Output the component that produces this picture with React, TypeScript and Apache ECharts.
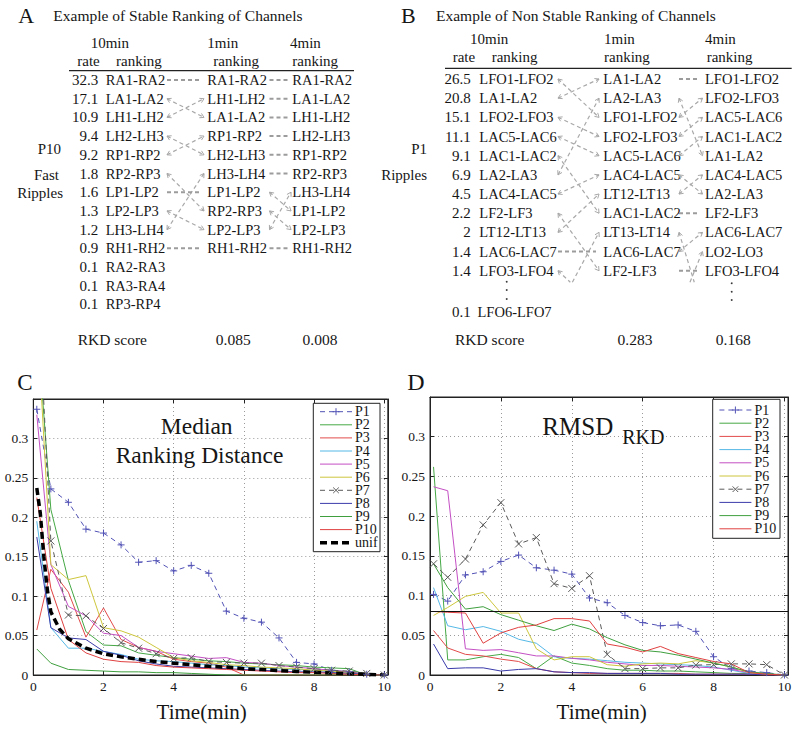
import { useEffect, useRef } from 'react';
import * as echarts from 'echarts';

// ---------------- data ----------------
const TIMES = [0.1, 0.5, 1, 1.5, 2, 2.5, 3, 3.5, 4, 4.5, 5, 5.5, 6, 6.5, 7, 7.5, 8, 8.5, 9, 9.5, 10];
const UNIF_TIMES = [0.1, 0.2, 0.3, 0.4, 0.5, 0.75, 1, 1.5, 2, 2.5, 3, 3.5, 4, 4.5, 5, 5.5, 6, 6.5, 7, 7.5, 8, 8.5, 9, 9.5, 10];
const SERIES_NAMES = ['P1', 'P2', 'P3', 'P4', 'P5', 'P6', 'P7', 'P8', 'P9', 'P10'];

// Panel C: median ranking distance
const MRD_P1 = [0.337, 0.236, 0.219, 0.185, 0.180, 0.165, 0.143, 0.145, 0.132, 0.139, 0.129, 0.081, 0.072, 0.067, 0.047, 0.016, 0.014, 0.006, 0.004, 0.001, 0];
const MRD_P2 = [0.450, 0.210, 0.120, 0.055, 0.038, 0.037, 0.028, 0.025, 0.022, 0.020, 0.018, 0.017, 0.015, 0.014, 0.013, 0.012, 0.010, 0.009, 0.008, 0.000, 0];
const MRD_P3 = [0.057, 0.134, 0.105, 0.048, 0.085, 0.045, 0.035, 0.030, 0.020, 0.017, 0.015, 0.010, 0.000, 0, 0, 0, 0, 0, 0, 0, 0];
const MRD_P4 = [0.195, 0.060, 0.034, 0.034, 0.030, 0.026, 0.020, 0.018, 0.017, 0.015, 0.013, 0.012, 0.010, 0.009, 0.008, 0.007, 0.006, 0.004, 0.003, 0.001, 0];
const MRD_P5 = [0.330, 0.140, 0.087, 0.075, 0.053, 0.050, 0.035, 0.030, 0.027, 0.024, 0.021, 0.022, 0.016, 0.015, 0.012, 0.010, 0.008, 0.006, 0.004, 0.001, 0];
const MRD_P6 = [0.460, 0.140, 0.121, 0.126, 0.060, 0.056, 0.048, 0.035, 0.022, 0.018, 0.016, 0.013, 0.012, 0.010, 0.009, 0.008, 0.006, 0.005, 0.003, 0.001, 0];
const MRD_P7 = [0.520, 0.170, 0.076, 0.075, 0.059, 0.041, 0.034, 0.027, 0.021, 0.022, 0.017, 0.016, 0.015, 0.015, 0.012, 0.010, 0.008, 0.006, 0.005, 0.002, 0];
const MRD_P8 = [0.175, 0.060, 0.047, 0.045, 0.030, 0.025, 0.018, 0.014, 0.011, 0.010, 0.009, 0.008, 0.007, 0.006, 0.005, 0.004, 0.004, 0.003, 0.002, 0.001, 0];
const MRD_P9 = [0.033, 0.015, 0.007, 0.006, 0.005, 0.004, 0.004, 0.003, 0.003, 0.002, 0.001, 0.000, 0, 0, 0, 0, 0, 0, 0, 0, 0];
const MRD_P10 = [0.225, 0.110, 0.045, 0.028, 0.020, 0.017, 0.016, 0.012, 0.010, 0.009, 0.008, 0.007, 0.006, 0.005, 0.004, 0.003, 0.003, 0.002, 0.001, 0.000, 0];
const MRD_UNIF = [0.237, 0.205, 0.150, 0.108, 0.080, 0.058, 0.046, 0.034, 0.027, 0.023, 0.020, 0.017, 0.015, 0.013, 0.011, 0.010, 0.008, 0.007, 0.0055, 0.0045, 0.0034, 0.0025, 0.0017, 0.0008, 0];

// Panel D: RMSD of RKD
const RMSD_P1 = [0.1015, 0.093, 0.126, 0.130, 0.143, 0.151, 0.135, 0.132, 0.127, 0.097, 0.091, 0.075, 0.066, 0.062, 0.063, 0.055, 0.023, 0.008, 0.005, 0.003, 0];
const RMSD_P2 = [0.262, 0.019, 0.019, 0.023, 0.026, 0.022, 0.008, 0.024, 0.015, 0.012, 0.008, 0.006, 0.006, 0.005, 0.005, 0.004, 0.003, 0.002, 0.002, 0.001, 0];
const RMSD_P3 = [0.056, 0.034, 0.026, 0.024, 0.020, 0.017, 0.008, 0.004, 0.003, 0.002, 0.002, 0.002, 0.002, 0.002, 0.002, 0.001, 0.001, 0.001, 0.001, 0, 0];
const RMSD_P4 = [0.110, 0.062, 0.057, 0.061, 0.055, 0.045, 0.040, 0.023, 0.021, 0.020, 0.018, 0.016, 0.015, 0.014, 0.013, 0.012, 0.010, 0.006, 0.002, 0.001, 0];
const RMSD_P5 = [0.237, 0.232, 0.033, 0.031, 0.032, 0.028, 0.024, 0.024, 0.021, 0.019, 0.016, 0.014, 0.012, 0.012, 0.011, 0.010, 0.009, 0.007, 0.003, 0.001, 0];
const RMSD_P6 = [0.075, 0.085, 0.099, 0.104, 0.078, 0.078, 0.033, 0.019, 0.023, 0.023, 0.013, 0.011, 0.014, 0.015, 0.014, 0.018, 0.015, 0.010, 0.003, 0.001, 0];
const RMSD_P7 = [0.140, 0.123, 0.146, 0.189, 0.217, 0.165, 0.173, 0.115, 0.109, 0.125, 0.026, 0.008, 0.008, 0.009, 0.009, 0.0125, 0.013, 0.014, 0.014, 0.013, 0];
const RMSD_P8 = [0.039, 0.008, 0.009, 0.009, 0.005, 0.007, 0.008, 0.004, 0.003, 0.003, 0.002, 0.002, 0.002, 0.002, 0.001, 0.001, 0.001, 0.001, 0.001, 0, 0];
const RMSD_P9 = [0.140, 0.110, 0.083, 0.086, 0.076, 0.069, 0.062, 0.056, 0.064, 0.058, 0.047, 0.038, 0.031, 0.029, 0.025, 0.020, 0.015, 0.010, 0.004, 0.002, 0];
const RMSD_P10 = [0.080, 0.079, 0.078, 0.040, 0.053, 0.060, 0.063, 0.071, 0.071, 0.068, 0.039, 0.035, 0.029, 0.036, 0.027, 0.022, 0.017, 0.014, 0.003, 0.001, 0];
const RMSD_THRESHOLD = 0.084;

// Axis scales
const X_MAX = 10.1;
const X_STEP = 2;
const Y_MAX = 0.35;
const Y_STEP = 0.05;

// Panel A table
const A_RATES = ['32.3', '17.1', '10.9', '9.4', '9.2', '1.8', '1.6', '1.3', '1.2', '0.9', '0.1', '0.1', '0.1'];
const A_RANK10 = ['RA1-RA2', 'LA1-LA2', 'LH1-LH2', 'LH2-LH3', 'RP1-RP2', 'RP2-RP3', 'LP1-LP2', 'LP2-LP3', 'LH3-LH4', 'RH1-RH2', 'RA2-RA3', 'RA3-RA4', 'RP3-RP4'];
const A_RANK1 = ['RA1-RA2', 'LH1-LH2', 'LA1-LA2', 'RP1-RP2', 'LH2-LH3', 'LH3-LH4', 'LP1-LP2', 'RP2-RP3', 'LP2-LP3', 'RH1-RH2'];
const A_RANK4 = ['RA1-RA2', 'LA1-LA2', 'LH1-LH2', 'LH2-LH3', 'RP1-RP2', 'RP2-RP3', 'LH3-LH4', 'LP1-LP2', 'LP2-LP3', 'RH1-RH2'];
const A_SCORES = ['0.085', '0.008'];

// Panel B table
const B_RATES = ['26.5', '20.8', '15.1', '11.1', '9.1', '6.9', '4.5', '2.2', '2', '1.4', '1.4'];
const B_RANK10 = ['LFO1-LFO2', 'LA1-LA2', 'LFO2-LFO3', 'LAC5-LAC6', 'LAC1-LAC2', 'LA2-LA3', 'LAC4-LAC5', 'LF2-LF3', 'LT12-LT13', 'LAC6-LAC7', 'LFO3-LFO4'];
const B_TAIL_RATE = '0.1';
const B_TAIL_LABEL = 'LFO6-LFO7';
const B_RANK1 = ['LA1-LA2', 'LA2-LA3', 'LFO1-LFO2', 'LFO2-LFO3', 'LAC5-LAC6', 'LAC4-LAC5', 'LT12-LT13', 'LAC1-LAC2', 'LT13-LT14', 'LAC6-LAC7', 'LF2-LF3'];
const B_RANK4 = ['LFO1-LFO2', 'LFO2-LFO3', 'LAC5-LAC6', 'LAC1-LAC2', 'LA1-LA2', 'LAC4-LAC5', 'LA2-LA3', 'LF2-LF3', 'LAC6-LAC7', 'LO2-LO3', 'LFO3-LFO4'];
const B_SCORES = ['0.283', '0.168'];

// ---------------- styles ----------------
const FONT = '"Liberation Serif", "DejaVu Serif", serif';
const font = (s: number) => `${s}px ${FONT}`;
const INK = '#161616';

type St = { color: string; width: number; dash?: number[]; marker?: 'plus' | 'cross' };
const STYLES: Record<string, St> = {
  P1: { color: '#5252b6', width: 1, dash: [5, 4], marker: 'plus' },
  P2: { color: '#46a846', width: 1 },
  P3: { color: '#e24a4a', width: 1 },
  P4: { color: '#55b8e6', width: 1 },
  P5: { color: '#c450c4', width: 1 },
  P6: { color: '#cdc63c', width: 1 },
  P7: { color: '#5a5a5a', width: 1, dash: [5, 4], marker: 'cross' },
  P8: { color: '#3a3aaa', width: 1 },
  P9: { color: '#3f9f3f', width: 1 },
  P10: { color: '#e04040', width: 1 },
  unif: { color: '#000000', width: 3.5, dash: [7, 4] },
};
const PLUS = 'path://M0,5L10,5M5,0L5,10';
const CROSS = 'path://M1,1L9,9M9,1L1,9';

function txt(text: string, x: number, y: number, size: number, align = 'left', z = 50, lineHeight?: number) {
  const style: any = { text, font: font(size), fill: INK, textAlign: align, textVerticalAlign: 'middle', align, verticalAlign: 'middle' };
  if (lineHeight) style.lineHeight = lineHeight;
  return { type: 'text', x, y, z, silent: true, style };
}
function seg(x1: number, y1: number, x2: number, y2: number, stroke: string, lineWidth: number, lineDash?: number[], z = 50) {
  return { type: 'line', z, silent: true, shape: { x1, y1, x2, y2 }, style: { stroke, lineWidth, lineDash: lineDash || null } };
}
function arrowHead(px: number, py: number, qx: number, qy: number) {
  const dx = px - qx, dy = py - qy;
  const L = Math.hypot(dx, dy) || 1;
  const ux = dx / L, uy = dy / L;
  const nx = -uy, ny = ux;
  const bx = px - 4 * ux, by = py - 4 * uy;
  return {
    type: 'polyline', z: 50, silent: true,
    shape: { points: [[bx + 2.4 * nx, by + 2.4 * ny], [px, py], [bx - 2.4 * nx, by - 2.4 * ny]] },
    style: { stroke: '#a8a8a8', lineWidth: 1, fill: null },
  };
}

function computeLinks(rank10: string[], target: string[], nShown: number, beyond: number) {
  const out: [number, number][] = [];
  target.forEach((lab, j) => {
    const i = rank10.indexOf(lab);
    out.push([i >= 0 && i < nShown ? i : beyond, j]);
  });
  rank10.slice(0, nShown).forEach((lab, i) => {
    if (target.indexOf(lab) < 0) out.push([i, beyond]);
  });
  return out;
}

function drawLinks(els: any[], links: [number, number][], x1: number, x2: number, rowY: (r: number) => number, beyond: number, clipRow: number) {
  links.forEach(([a, b]) => {
    if (a === b) {
      els.push(seg(x1, rowY(a), x2 - 3, rowY(b), '#9c9c9c', 2, [4, 3]));
      return;
    }
    let sx = x1, sy = rowY(a), ex = x2, ey = rowY(b);
    const fx = x1, fy = rowY(a), tx = x2, ty = rowY(b);
    if (a === beyond) {
      const t = (beyond - clipRow) / (beyond - b);
      sx = fx + (tx - fx) * t; sy = rowY(clipRow);
    }
    if (b === beyond) {
      const t = (clipRow - a) / (beyond - a);
      ex = fx + (tx - fx) * t; ey = rowY(clipRow);
    }
    els.push(seg(sx, sy, ex, ey, '#a8a8a8', 1.2, [4, 3]));
    if (a !== beyond) els.push(arrowHead(fx, fy, tx, ty));
    if (b !== beyond) els.push(arrowHead(tx, ty, fx, fy));
  });
}

function panelA() {
  const els: any[] = [];
  const rowY = (i: number) => 80 + 18.7 * i;
  els.push(txt('A', 26.3, 15.5, 22, 'center'));
  els.push(txt('Example of Stable Ranking of Channels', 53.3, 15, 15.5));
  els.push(txt('10min', 90.7, 42.7, 15));
  els.push(txt('rate', 77.3, 60.7, 15));
  els.push(txt('ranking', 116, 60.7, 15));
  els.push(txt('1min', 207.3, 42.7, 15));
  els.push(txt('ranking', 213.3, 60.7, 15));
  els.push(txt('4min', 290, 42.7, 15));
  els.push(txt('ranking', 292.3, 60.7, 15));
  els.push(seg(69, 70.7, 354, 70.7, '#222', 1.3));
  A_RATES.forEach((r, i) => els.push(txt(r, 98.3, rowY(i), 15, 'right')));
  A_RANK10.forEach((l, i) => els.push(txt(l, 105.7, rowY(i), 14.5)));
  A_RANK1.forEach((l, j) => els.push(txt(l, 207.3, rowY(j), 14.5)));
  A_RANK4.forEach((l, j) => els.push(txt(l, 292.3, rowY(j), 14.5)));
  els.push(txt('P10', 61, 149, 15, 'right'));
  els.push(txt('Fast', 59, 175, 15, 'right'));
  els.push(txt('Ripples', 63, 193.3, 15, 'right'));
  els.push(txt('RKD score', 77.7, 339.3, 15.5));
  els.push(txt(A_SCORES[0], 233.3, 339.3, 15.5, 'center'));
  els.push(txt(A_SCORES[1], 320, 339.3, 15.5, 'center'));
  const beyond = 12;
  drawLinks(els, computeLinks(A_RANK10, A_RANK1, A_RANK1.length, beyond), 167, 204, rowY, beyond, 10.6);
  drawLinks(els, computeLinks(A_RANK10, A_RANK4, A_RANK4.length, beyond), 269.5, 291, rowY, beyond, 10.6);
  return els;
}

function panelB() {
  const els: any[] = [];
  const rowY = (i: number) => 79 + 19.17 * i;
  els.push(txt('B', 408.3, 15, 22, 'center'));
  els.push(txt('Example of Non Stable Ranking of Channels', 436, 15, 15.5));
  els.push(txt('10min', 470, 39.3, 15));
  els.push(txt('rate', 452.7, 57.3, 15));
  els.push(txt('ranking', 491.7, 57.3, 15));
  els.push(txt('1min', 604, 39.3, 15));
  els.push(txt('ranking', 604, 57.3, 15));
  els.push(txt('4min', 705, 39.3, 15));
  els.push(txt('ranking', 706.7, 57.3, 15));
  els.push(seg(445, 68.3, 791.7, 68.3, '#222', 1.3));
  B_RATES.forEach((r, i) => els.push(txt(r, 470.7, rowY(i), 15, 'right')));
  B_RANK10.forEach((l, i) => els.push(txt(l, 479.3, rowY(i), 14.5)));
  B_RANK1.forEach((l, j) => els.push(txt(l, 603.3, rowY(j), 14.5)));
  B_RANK4.forEach((l, j) => els.push(txt(l, 705, rowY(j), 14.5)));
  els.push(txt(B_TAIL_RATE, 470.7, 312.3, 15, 'right'));
  els.push(txt(B_TAIL_LABEL, 477.5, 312.3, 14.5));
  [281.7, 290, 299].forEach((y) => els.push({ type: 'circle', z: 50, silent: true, shape: { cx: 506.7, cy: y, r: 0.9 }, style: { fill: '#333' } }));
  [283.3, 291.7, 300].forEach((y) => els.push({ type: 'circle', z: 50, silent: true, shape: { cx: 731.7, cy: y, r: 0.9 }, style: { fill: '#333' } }));
  els.push(txt('P1', 427, 149, 15, 'right'));
  els.push(txt('Ripples', 427, 175, 15, 'right'));
  els.push(txt('RKD score', 455, 339.3, 15.5));
  els.push(txt(B_SCORES[0], 635, 339.3, 15.5, 'center'));
  els.push(txt(B_SCORES[1], 733.3, 339.3, 15.5, 'center'));
  const beyond = 12;
  drawLinks(els, computeLinks(B_RANK10, B_RANK1, B_RANK1.length, beyond), 558, 599, rowY, beyond, 10.6);
  drawLinks(els, computeLinks(B_RANK10, B_RANK4, B_RANK4.length, beyond), 679, 702.5, rowY, beyond, 10.6);
  return els;
}

function legendBox(names: string[], left: number, top: number, w: number, h: number, firstY: number, pitch: number) {
  const els: any[] = [];
  els.push({ type: 'rect', z: 100, silent: true, shape: { x: left, y: top, width: w, height: h }, style: { fill: '#fff', stroke: '#222', lineWidth: 1 } });
  names.forEach((n, k) => {
    const st = STYLES[n];
    const y = firstY + pitch * k;
    const x1 = left + 6.7, x2 = x1 + 32, xm = (x1 + x2) / 2;
    els.push(seg(x1, y, x2, y, st.color, st.width, st.dash, 101));
    if (st.marker === 'plus') {
      els.push(seg(xm - 3.5, y, xm + 3.5, y, st.color, 1, undefined, 102));
      els.push(seg(xm, y - 3.5, xm, y + 3.5, st.color, 1, undefined, 102));
    } else if (st.marker === 'cross') {
      els.push(seg(xm - 2.8, y - 2.8, xm + 2.8, y + 2.8, st.color, 1, undefined, 102));
      els.push(seg(xm - 2.8, y + 2.8, xm + 2.8, y - 2.8, st.color, 1, undefined, 102));
    }
    els.push(txt(n, x2 + 3, y, 14, 'left', 102, 13));
  });
  return els;
}

function mkSeries(name: string, times: number[], values: number[], gi: number, extra: any = {}) {
  const st = STYLES[name];
  const sym = st.marker === 'plus' ? PLUS : st.marker === 'cross' ? CROSS : 'none';
  return {
    type: 'line', name, xAxisIndex: gi, yAxisIndex: gi,
    data: times.map((t, k) => [t, values[k]]),
    symbol: sym, symbolSize: 7, showSymbol: sym !== 'none',
    lineStyle: { color: st.color, width: st.width, type: st.dash || 'solid' },
    itemStyle: { color: st.color, borderColor: st.color, borderWidth: 1 },
    emphasis: { disabled: true }, silent: true, clip: true,
    ...extra,
  };
}

const fmtX = (v: number) => {
  const r = Math.round(v);
  return Math.abs(v - r) < 1e-6 && r % 2 === 0 ? String(r) : '';
};
const fmtY = (v: number) => (v > Y_MAX - 0.01 ? '' : String(Math.round(v * 100) / 100));

function xAxis(gi: number, top = false) {
  return {
    type: 'value', gridIndex: gi, min: 0, max: X_MAX, interval: X_STEP,
    position: top ? 'top' : 'bottom',
    axisLine: { show: true, onZero: false, lineStyle: { color: '#222', width: 1 } },
    axisTick: { show: true, inside: true, length: 4, lineStyle: { color: '#222' } },
    axisLabel: { show: !top, margin: 4, fontFamily: FONT, fontSize: 13.5, color: INK, formatter: fmtX },
    splitLine: { show: !top, lineStyle: { color: '#9a9a9a', type: [1, 3], width: 1 } },
  };
}
function yAxis(gi: number, right = false) {
  return {
    type: 'value', gridIndex: gi, min: 0, max: Y_MAX, interval: Y_STEP,
    position: right ? 'right' : 'left',
    axisLine: { show: true, onZero: false, lineStyle: { color: '#222', width: 1 } },
    axisTick: { show: true, inside: true, length: 4, lineStyle: { color: '#222' } },
    axisLabel: { show: !right, margin: 5, fontFamily: FONT, fontSize: 13.5, color: INK, formatter: fmtY },
    splitLine: { show: !right, lineStyle: { color: '#9a9a9a', type: [1, 3], width: 1 } },
  };
}

function buildOption() {
  const mrd = [MRD_P1, MRD_P2, MRD_P3, MRD_P4, MRD_P5, MRD_P6, MRD_P7, MRD_P8, MRD_P9, MRD_P10];
  const rmsd = [RMSD_P1, RMSD_P2, RMSD_P3, RMSD_P4, RMSD_P5, RMSD_P6, RMSD_P7, RMSD_P8, RMSD_P9, RMSD_P10];
  const series: any[] = [];
  SERIES_NAMES.forEach((n, k) => series.push(mkSeries(n, TIMES, mrd[k], 0)));
  series.push(mkSeries('unif', UNIF_TIMES, MRD_UNIF, 0));
  SERIES_NAMES.forEach((n, k) =>
    series.push(
      mkSeries(n, TIMES, rmsd[k], 1,
        k === 0
          ? {
              markLine: {
                silent: true, symbol: ['none', 'none'], label: { show: false },
                lineStyle: { color: '#111', width: 1.2, type: 'solid' },
                emphasis: { disabled: true },
                data: [{ yAxis: RMSD_THRESHOLD }],
              },
            }
          : {})
    )
  );

  const graphics: any[] = [
    ...panelA(),
    ...panelB(),
    txt('C', 25, 382, 23, 'center'),
    txt('D', 416, 382, 24, 'center'),
    txt('Median', 196.7, 426, 23.5, 'center'),
    txt('Ranking Distance', 199.5, 455, 23.5, 'center'),
    txt('RMSD', 577.8, 426, 25, 'center'),
    txt('RKD', 643.3, 437, 20, 'center'),
    txt('Time(min)', 201.7, 711.7, 21, 'center'),
    txt('Time(min)', 601.7, 711.7, 21, 'center'),
    ...legendBox([...SERIES_NAMES, 'unif'], 313.3, 403.3, 66.7, 148.4, 411.7, 13.1),
    ...legendBox(SERIES_NAMES, 712.7, 399.3, 67.3, 139, 410, 13.2),
  ];

  return {
    animation: false,
    backgroundColor: '#ffffff',
    grid: [
      { left: 33.3, top: 399, width: 354.5, height: 276, show: true, borderColor: '#222', borderWidth: 1, outerBoundsMode: 'none' },
      { left: 430, top: 397, width: 358, height: 278, show: true, borderColor: '#222', borderWidth: 1, outerBoundsMode: 'none' },
    ],
    xAxis: [xAxis(0), xAxis(1), xAxis(0, true), xAxis(1, true)],
    yAxis: [yAxis(0), yAxis(1), yAxis(0, true), yAxis(1, true)],
    series,
    graphic: { elements: graphics },
  };
}

export default function App() {
  const ref = useRef<HTMLDivElement>(null);
  useEffect(() => {
    const chart = echarts.init(ref.current as HTMLDivElement, null, { renderer: 'svg' });
    chart.setOption(buildOption() as any);
    return () => chart.dispose();
  }, []);
  return (
    <div
      ref={ref}
      style={{ position: 'fixed', left: 0, top: 0, width: 798, height: 729, background: '#fff' }}
    />
  );
}
